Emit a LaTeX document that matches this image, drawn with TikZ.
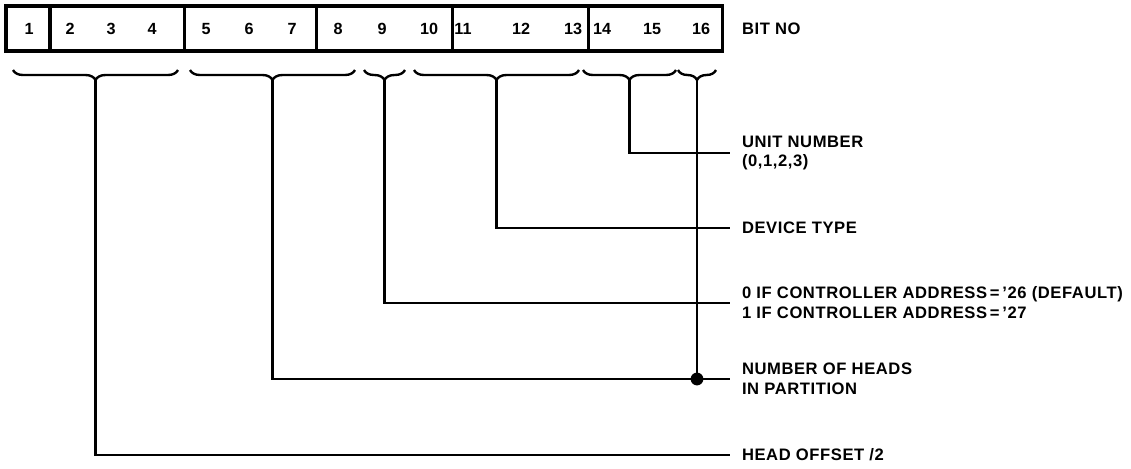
\documentclass[tikz,border=0pt]{standalone}
\usepackage{fontspec}
\setmainfont{Liberation Sans}
\usetikzlibrary{decorations.pathreplacing,positioning}

\begin{document}
\begin{tikzpicture}[x=0.025cm,y=-0.025cm,
  bitgroup/.style={draw,line width=2.2pt,outer sep=0pt,inner sep=0pt,minimum height=1.125cm},
  bitnum/.style={inner sep=0pt,font=\fontsize{11.5}{12}\selectfont\bfseries},
  fieldlabel/.style={anchor=west,align=left,inner sep=0pt,outer sep=0.3cm,
    font=\fontsize{11.8}{14.2}\selectfont\bfseries\addfontfeatures{LetterSpace=3.5}},
  fieldbrace/.style={decorate,decoration={brace,mirror,amplitude=0.25cm},line width=1.7pt},
  wire/.style={line width=1.9pt},
  joint/.style={circle,fill,inner sep=0pt,minimum size=0.32cm}]
\useasboundingbox (0,0) rectangle (1131,468);

% the 16 bit register, in six groups
\node[bitgroup,minimum width=1.1cm,anchor=north west] (g1) at (6,6) {};
\node[bitgroup,minimum width=3.35cm,right=0pt of g1] (g2) {};
\node[bitgroup,minimum width=3.3cm,right=0pt of g2] (g3) {};
\node[bitgroup,minimum width=3.4cm,right=0pt of g3] (g4) {};
\node[bitgroup,minimum width=3.4cm,right=0pt of g4] (g5) {};
\node[bitgroup,minimum width=3.35cm,right=0pt of g5] (g6) {};
\foreach \n/\x in {1/29,2/70,3/111,4/152,5/206,6/249,7/292,8/338,9/382,10/429,
                   11/463,12/521,13/573,14/602,15/652,16/701}
  \node[bitnum] (b\n) at (\x,29) {\n};
\node[fieldlabel] (bitno) at (730,29) {BIT NO};

% braces under the fields
\draw[fieldbrace] (13,70) -- (178,70);
\draw[fieldbrace] (190,70) -- (355,70);
\draw[fieldbrace] (364,70) -- (405,70);
\draw[fieldbrace] (414,70) -- (579,70);
\draw[fieldbrace] (583,70) -- (676,70);
\draw[fieldbrace] (678,70) -- (716,70);
\coordinate (s1) at (95.5,80);
\coordinate (s2) at (272.5,80);
\coordinate (s3) at (384.5,80);
\coordinate (s4) at (496.5,80);
\coordinate (s5) at (629.5,80);
\coordinate (s6) at (697,80);

% field names
\node[fieldlabel] (unit) at (730,153) {UNIT NUMBER\\(0,1,2,3)};
\node[fieldlabel] (dev) at (730,228) {DEVICE TYPE};
\node[fieldlabel] (ctrl) at (730,303) {0 IF CONTROLLER ADDRESS\,=\,'26 (DEFAULT)\\1 IF CONTROLLER ADDRESS\,=\,'27};
\node[fieldlabel] (heads) at (730,379) {NUMBER OF HEADS\\IN PARTITION};
\node[fieldlabel] (hoff) at (730,455) {HEAD OFFSET /2};

% connectors
\draw[wire] (s5) |- (unit.west);
\draw[wire] (s4) |- (dev.west);
\draw[wire] (s3) |- (ctrl.west);
\draw[wire] (s2) |- (heads.west);
\draw[wire] (s1) |- (hoff.west);
\draw[wire] (s6) -- (s6 |- heads.west) node[joint] (jn) {};
\end{tikzpicture}
\end{document}
